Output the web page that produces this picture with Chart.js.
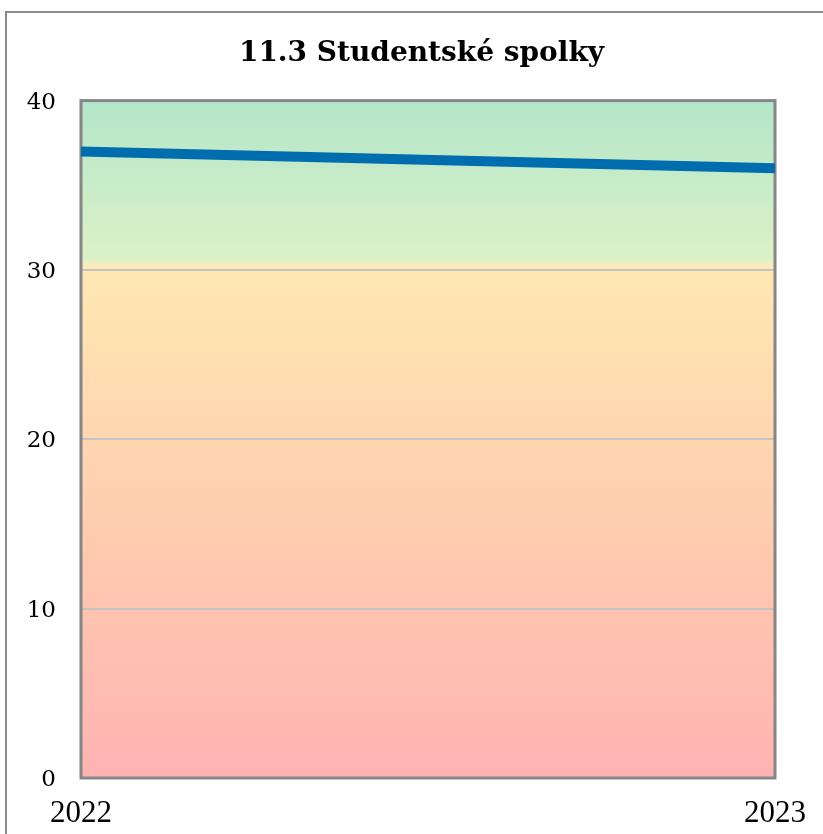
<!DOCTYPE html>
<html>
<head>
<meta charset="utf-8">
<script src="https://cdn.jsdelivr.net/npm/chart.js@4/dist/chart.umd.min.js"></script>
<style>
  html, body { margin: 0; padding: 0; background: #fff; }
  #wrap { position: relative; width: 823px; height: 834px; overflow: hidden; }
  #frame { position: absolute; left: 5px; top: 11px; width: 900px; height: 900px; border: 2px solid #8c8c8c; }
  #chart { position: absolute; left: 0; top: 0; }
</style>
</head>
<body>
<div id="wrap">
  <div id="frame"></div>
  <canvas id="chart" width="823" height="834"></canvas>
</div>
<script>
// data
const years = ['2022', '2023'];
const spolky = [37, 36];
const yTicks = [0, 10, 20, 30, 40];

// background bands (value -> colour)
const bgStops = [
    [40, '#b3e6c9'],
    [30.6, '#dcf1c8'],
    [30.3, '#f9ecbe'],
    [30, '#ffe8b3'],
    [20, '#ffd6b0'],
    [10, '#ffc4b0'],
    [0, '#ffb3b3']
];

const bgPlugin = {
    id: 'bgPlugin',
    beforeDraw(chart) {
        const ctx = chart.ctx;
        const area = chart.chartArea;
        const y = chart.scales.y;
        const grad = ctx.createLinearGradient(0, area.top, 0, area.bottom);
        bgStops.forEach(s => {
            grad.addColorStop((y.getPixelForValue(s[0]) - area.top) / (area.bottom - area.top), s[1]);
        });
        ctx.save();
        ctx.fillStyle = grad;
        ctx.fillRect(area.left, area.top, area.right - area.left, area.bottom - area.top);
        ctx.restore();
    },
    beforeDatasetsDraw(chart) {
        const ctx = chart.ctx;
        const area = chart.chartArea;
        ctx.save();
        ctx.strokeStyle = '#868686';
        ctx.lineWidth = 3;
        ctx.strokeRect(area.left, area.top, area.right - area.left, area.bottom - area.top);
        ctx.restore();
    }
};

const ctx = document.getElementById('chart').getContext('2d');
new Chart(ctx, {
    type: 'line',
    data: {
        labels: years,
        datasets: [{
            label: 'Studentské spolky',
            data: spolky,
            borderColor: '#006dae',
            borderWidth: 10,
            pointRadius: 0,
            tension: 0,
            fill: false
        }]
    },
    options: {
        responsive: false,
        animation: false,
        layout: { padding: { left: 20, right: 0, top: 0, bottom: 0 } },
        plugins: {
            legend: { display: false },
            tooltip: { enabled: false },
            title: {
                display: true,
                text: '11.3 Studentské spolky',
                color: '#000',
                font: { family: 'DejaVu Serif', size: 28, weight: 'bold' },
                padding: { top: 37, bottom: 30 }
            }
        },
        scales: {
            x: {
                offset: false,
                grid: { display: false, drawTicks: false },
                border: { display: false },
                ticks: {
                    color: '#000',
                    padding: 17,
                    maxRotation: 0,
                    font: { family: 'Liberation Serif', size: 31 }
                },
                afterFit(scale) { scale.height = 56; }
            },
            y: {
                min: 0,
                max: 40,
                afterBuildTicks(scale) { scale.ticks = yTicks.map(v => ({ value: v })); },
                grid: { color: '#c4c4c4', lineWidth: 2, drawTicks: false },
                border: { display: false },
                ticks: {
                    color: '#000',
                    padding: 25,
                    labelOffset: 2,
                    font: { family: 'DejaVu Serif', size: 23 }
                },
                afterFit(scale) { scale.width = 61; }
            },
            yRight: {
                position: 'right',
                display: true,
                grid: { display: false, drawTicks: false },
                border: { display: false },
                ticks: { display: false },
                afterFit(scale) { scale.width = 48; }
            }
        }
    },
    plugins: [bgPlugin]
});
</script>
</body>
</html>
